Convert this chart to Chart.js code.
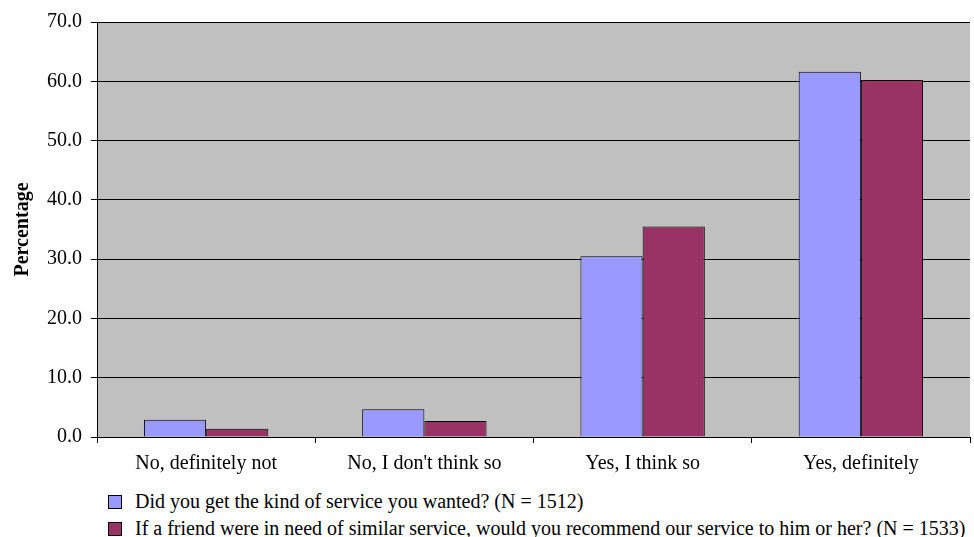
<!DOCTYPE html>
<html>
<head>
<meta charset="utf-8">
<script src="https://cdn.jsdelivr.net/npm/chart.js@4"></script>
<style>
  body { margin: 0; background: #fff; font-family: "Liberation Serif", serif; }
  #wrap { position: relative; width: 974px; height: 480px; }
  #legend { position: absolute; left: 108px; top: 488px; font-size: 20px; color: #000; }
  .row { display: flex; align-items: center; height: 27px; }
  .box { box-sizing: border-box; width: 14px; height: 14px; border: 1px solid #000; margin-right: 13px; }
</style>
</head>
<body>
<div id="wrap"><canvas id="chart"></canvas></div>
<div id="legend"></div>
<script>
// data
const categories = ['No, definitely not', "No, I don't think so", 'Yes, I think so', 'Yes, definitely'];
const serviceWanted = [2.9, 4.7, 30.5, 61.6];
const recommend = [1.4, 2.7, 35.5, 60.2];
const seriesNames = [
  'Did you get the kind of service you wanted? (N = 1512)',
  'If a friend were in need of similar service, would you recommend our service to him or her? (N = 1533)'
];
const seriesColors = ['#9999FF', '#993366'];

// grey plot background
const plotBg = {
  id: 'plotBg',
  beforeDraw(chart) {
    const { ctx, chartArea: a } = chart;
    ctx.save();
    ctx.fillStyle = '#C0C0C0';
    ctx.fillRect(a.left, a.top, a.right - a.left, a.bottom - a.top);
    ctx.restore();
  }
};

const font = { family: 'Liberation Serif', size: 20 };

const ctx = document.getElementById('chart').getContext('2d');
const chart = new Chart(ctx, {
  type: 'bar',
  data: {
    labels: categories,
    datasets: [
      { label: seriesNames[0], data: serviceWanted, backgroundColor: seriesColors[0], borderColor: '#000', borderWidth: 1 },
      { label: seriesNames[1], data: recommend, backgroundColor: seriesColors[1], borderColor: '#000', borderWidth: 1 }
    ]
  },
  options: {
    responsive: true,
    maintainAspectRatio: false,
    animation: false,
    layout: { padding: { top: 22, right: 4, left: 0, bottom: 0 } },
    datasets: { bar: { categoryPercentage: 0.57, barPercentage: 1.0 } },
    plugins: { legend: { display: false }, tooltip: { enabled: false } },
    scales: {
      x: {
        grid: { display: true, offset: true, drawOnChartArea: false, drawTicks: true, tickLength: 6, color: '#000' },
        border: { color: '#000' },
        ticks: { color: '#000', font: font, padding: 9, maxRotation: 0 },
        afterFit(scale) { scale.height = 43; }
      },
      y: {
        min: 0,
        max: 70,
        grid: { color: '#000', tickLength: 6 },
        border: { color: '#000' },
        ticks: {
          stepSize: 10,
          color: '#000',
          font: font,
          padding: 9,
          callback: (v) => v.toFixed(1)
        },
        title: { display: true, text: 'Percentage', color: '#000', padding: { top: 11, bottom: 0 }, font: { family: 'Liberation Serif', size: 20, weight: 'bold' } },
        afterFit(scale) { scale.width = 97; }
      }
    }
  },
  plugins: [plotBg]
});

// legend below the chart, one row per series
const legendEl = document.getElementById('legend');
chart.data.datasets.forEach((ds) => {
  const row = document.createElement('div');
  row.className = 'row';
  const box = document.createElement('span');
  box.className = 'box';
  box.style.background = ds.backgroundColor;
  const txt = document.createElement('span');
  txt.textContent = ds.label;
  row.appendChild(box);
  row.appendChild(txt);
  legendEl.appendChild(row);
});
</script>
</body>
</html>
